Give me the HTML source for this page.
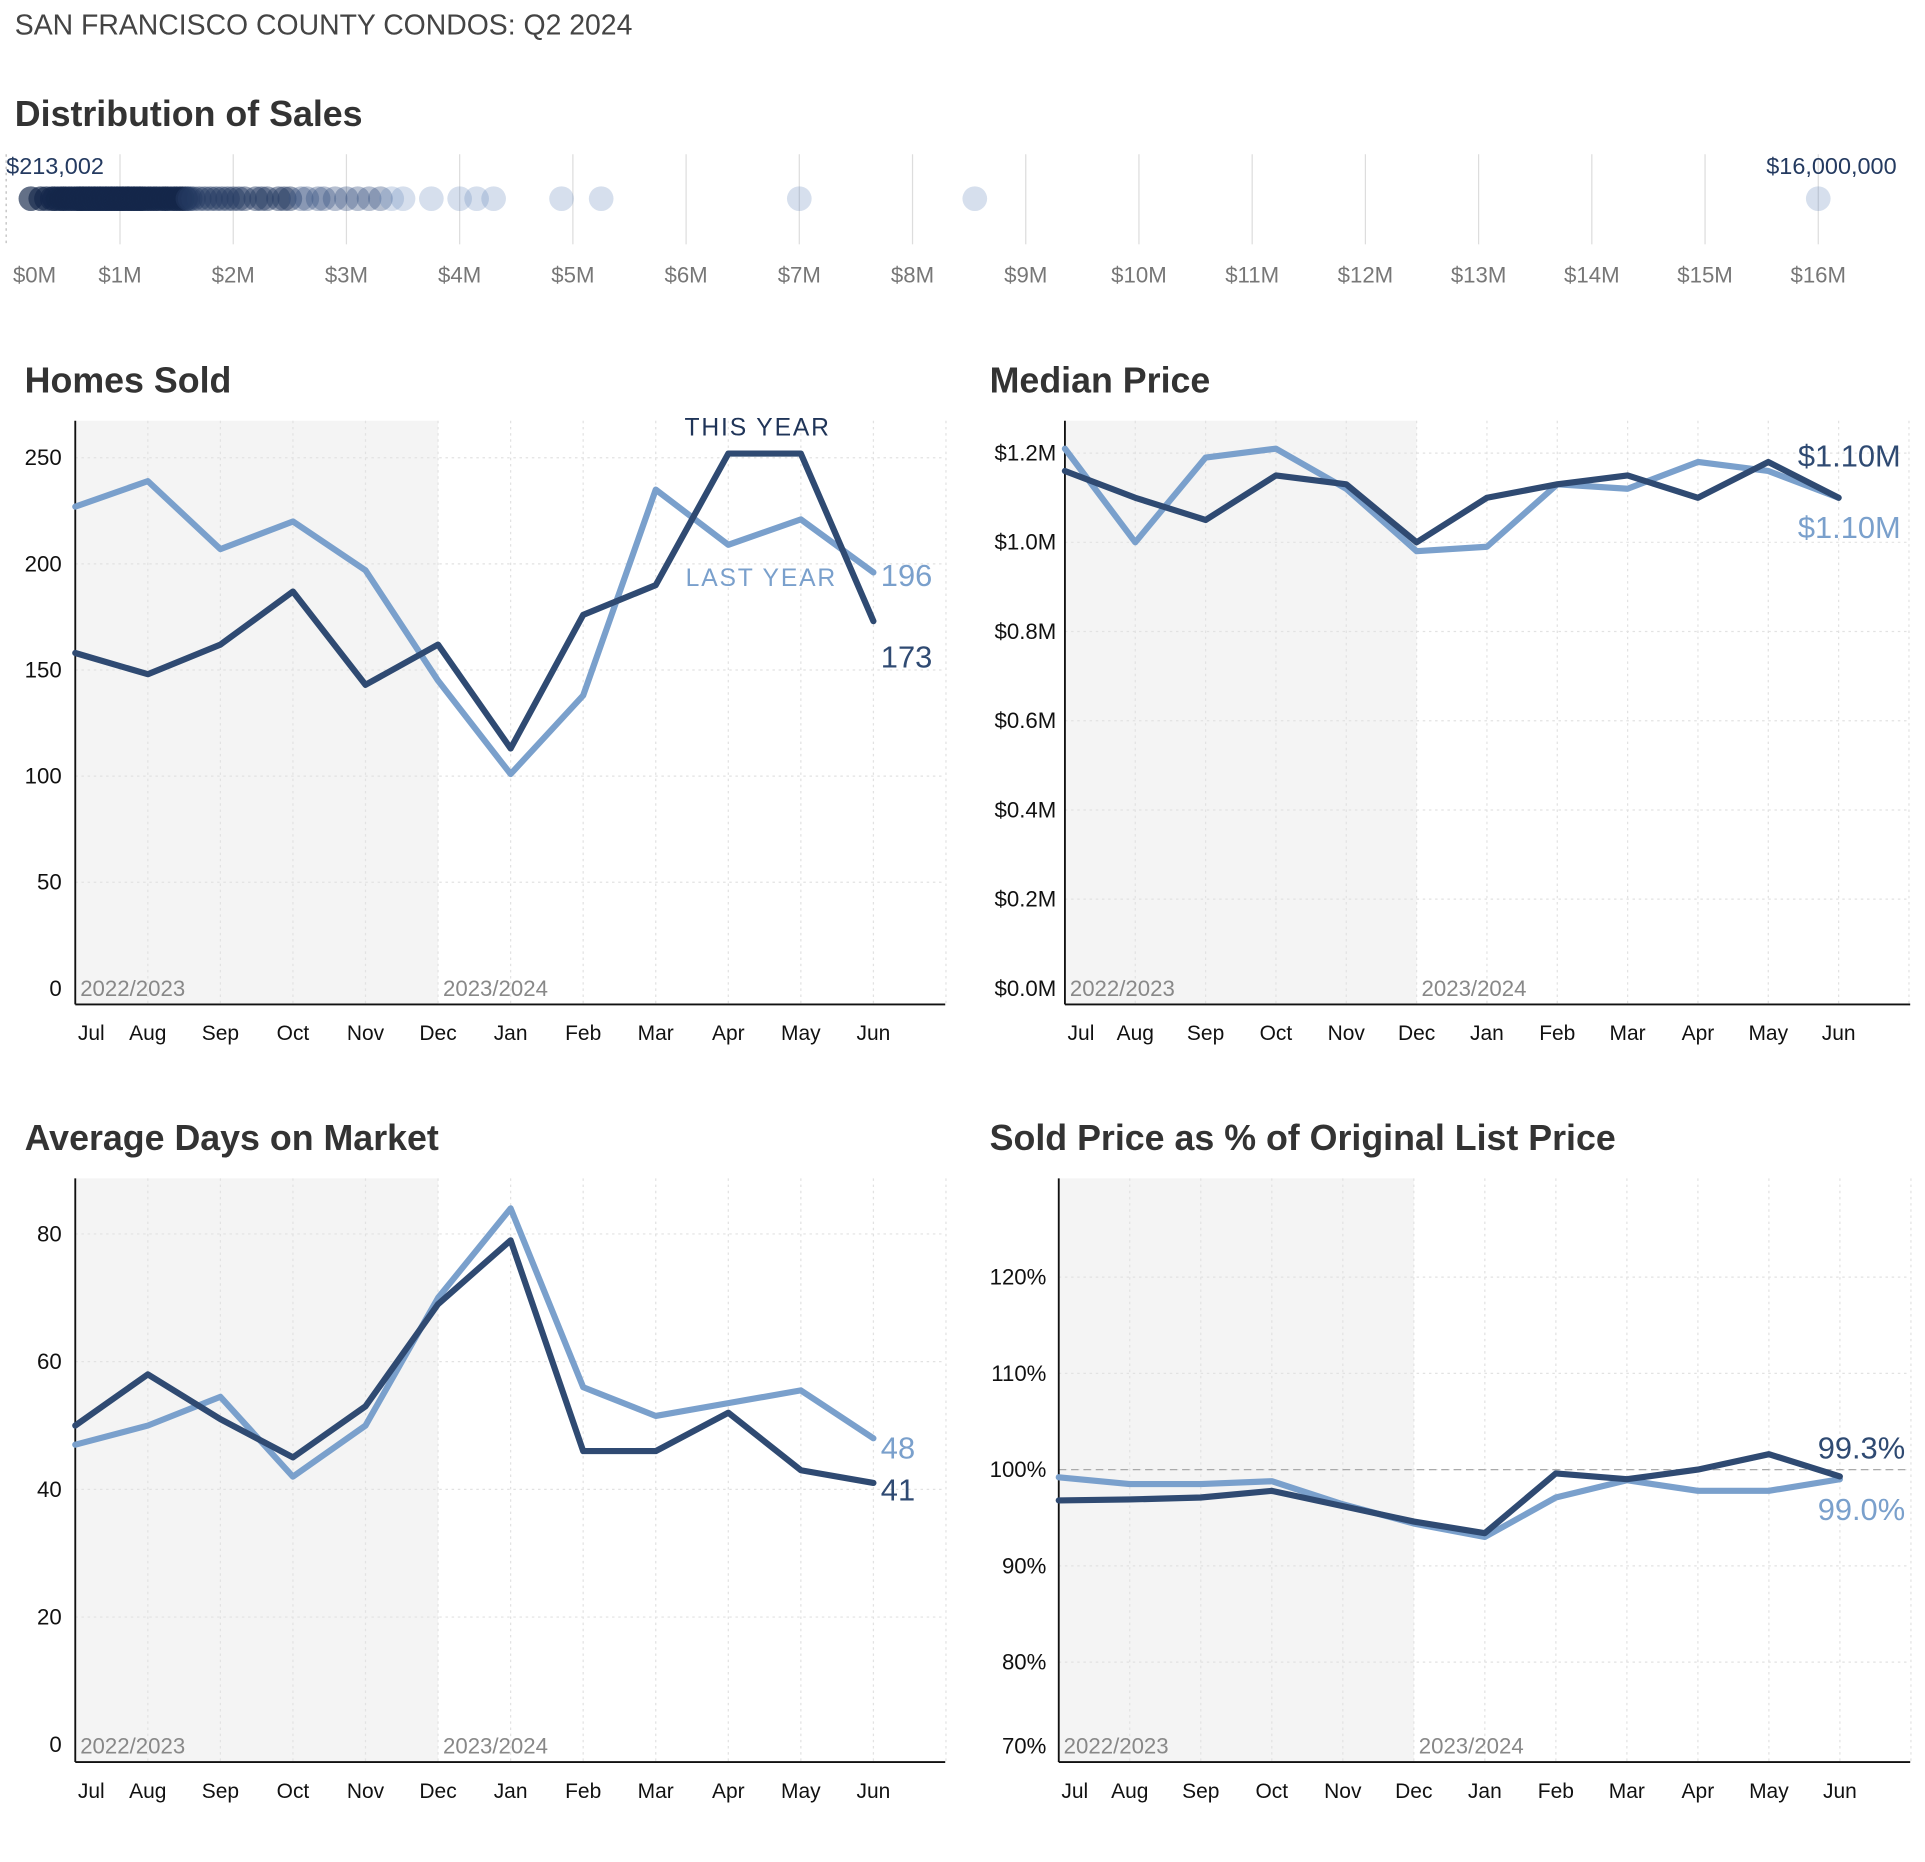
<!DOCTYPE html>
<html><head><meta charset="utf-8">
<style>
html,body{margin:0;padding:0;background:#fff;}
svg{display:block;}
text{font-family:"Liberation Sans Narrow","Liberation Sans",sans-serif;}
</style></head>
<body>
<svg id="root" width="1925" height="1862" viewBox="0 0 1560 1509" preserveAspectRatio="none" xmlns="http://www.w3.org/2000/svg">
<text x="12" y="28" font-size="23" fill="#444">SAN FRANCISCO COUNTY CONDOS: Q2 2024</text>
<text x="12" y="102" font-size="29" fill="#333" font-weight="bold">Distribution of Sales</text>
<g id="dist"></g>
<g id="c1"></g>
<g id="c2"></g>
<g id="c3"></g>
<g id="c4"></g>
</svg>
<script>
const months = ["Jul","Aug","Sep","Oct","Nov","Dec","Jan","Feb","Mar","Apr","May","Jun"];
const salePrices = [0.213,0.3,0.35,0.4,0.42,0.45,0.48,0.5,0.52,0.55,0.57,0.6,0.62,0.64,0.65,0.67,0.68,0.7,0.72,0.73,0.75,0.77,0.78,0.8,0.82,0.83,0.85,0.87,0.88,0.9,0.92,0.93,0.95,0.97,0.98,1.0,1.02,1.03,1.05,1.07,1.08,1.1,1.12,1.13,1.15,1.17,1.18,1.2,1.22,1.25,1.27,1.3,1.32,1.35,1.38,1.4,1.42,1.45,1.48,1.5,1.53,1.55,1.58,1.6,1.62,1.65,1.7,1.75,1.8,1.85,1.9,1.95,2.0,2.05,2.1,2.2,2.25,2.3,2.4,2.45,2.5,2.6,2.65,2.75,2.8,2.9,3.0,3.1,3.2,3.3,3.4,3.5,3.75,4.0,4.15,4.3,4.9,5.25,7.0,8.55,16.0];
const distTicks = [0,1,2,3,4,5,6,7,8,9,10,11,12,13,14,15,16];

const soldThis = [158,148,162,187,143,162,113,176,190,252,252,173];
const soldLast = [227,239,207,220,197,145,101,138,235,209,221,196];
const soldTicks = [0,50,100,150,200,250];

const priceThis = [1.16,1.10,1.05,1.15,1.13,1.00,1.10,1.13,1.15,1.10,1.18,1.10];
const priceLast = [1.21,1.00,1.19,1.21,1.12,0.98,0.99,1.13,1.12,1.18,1.16,1.10];
const priceTicks = [0,0.2,0.4,0.6,0.8,1.0,1.2];

const domThis = [50,58,51,45,53,69,79,46,46,52,43,41];
const domLast = [47,50,54.5,42,50,70,84,56,51.5,53.5,55.5,48];
const domTicks = [0,20,40,60,80];

const pctThis = [96.8,96.9,97.1,97.8,96.2,94.6,93.4,99.6,99.0,100.0,101.6,99.3];
const pctLast = [99.2,98.5,98.5,98.8,96.4,94.4,93.0,97.1,98.9,97.8,97.8,99.0];
const pctTicks = [70,80,90,100,110,120];

const NS="http://www.w3.org/2000/svg";
function mk(parent,tag,attrs,txt){const e=document.createElementNS(NS,tag);for(const k in attrs)e.setAttribute(k,attrs[k]);if(txt!==undefined)e.textContent=txt;parent.appendChild(e);return e;}
const DARK="#2f4a72", LIGHT="#7aa0cc";

(function(){
  const g=document.getElementById('dist');
  const x=v=>5.5+v*91.75;
  mk(g,'line',{x1:5,y1:125,x2:5,y2:198,stroke:'#bbb','stroke-dasharray':'2,3'});
  distTicks.forEach(t=>{
    if(t>0){const l=mk(g,'line',{x1:x(t),y1:125,x2:x(t),y2:198,stroke:'#ddd','stroke-width':1});
    
    }
    const tx=mk(g,'text',{x:t===0?28:x(t),y:229,'font-size':18,fill:'#777','text-anchor':'middle'},'$'+t+'M');
    
    
  });
  salePrices.forEach(v=>{
    const c=mk(g,'circle',{cx:x(v),cy:161,r:10,fill:'#5a80b8','fill-opacity':0.25});
    
    
    if(v<3.4){const c2=mk(g,'circle',{cx:x(v),cy:161,r:10,fill:'#061433','fill-opacity':v<1.6?0.55:(v<2.6?0.3:0.15)});
    
    }
  });
  const a=mk(g,'text',{x:5,y:141,'font-size':19,fill:'#243a60'},'$213,002');
  
  
  const b=mk(g,'text',{x:1537,y:141,'font-size':19,fill:'#243a60','text-anchor':'end'},'$16,000,000');
  
  
})();

function lineChart(o){
  const g=document.getElementById(o.id);
  const x=i=>o.x0+i*o.dx;
  const y=v=>o.yBase-(v-o.vBase)*o.k;
  const t=mk(g,'text',{x:o.titleX,y:o.titleY,'font-size':29,fill:'#333','font-weight':'bold'},o.title);
  
  
  const sh=mk(g,'rect',{x:o.x0,y:o.top,width:x(5)-o.x0,height:o.bottom-o.top,fill:'#f4f4f4'});
  
  
  for(let i=1;i<=12;i++){
    const l=mk(g,'line',{x1:x(i),y1:o.top,x2:x(i),y2:o.bottom,stroke:'#e2e2e2','stroke-dasharray':'2,3'});
    
    
  }
  o.ticks.forEach(v=>{
    const yy=y(v);
    if(v!==o.ticks[0]){const l=mk(g,'line',{x1:o.x0,y1:yy,x2:o.right,y2:yy,stroke:'#e2e2e2','stroke-dasharray':'2,3'});
    
    }
    const tx=mk(g,'text',{x:o.labelX,y:Math.min(yy,o.bottom-13)+6,'font-size':18,fill:'#111','text-anchor':'end'},o.fmt(v));
    
    
  });
  if(o.refLine!==undefined){
    const l=mk(g,'line',{x1:o.x0,y1:y(o.refLine),x2:o.right,y2:y(o.refLine),stroke:'#aaa','stroke-dasharray':'6,4'});
    
    
  }
  const p1=mk(g,'text',{x:o.x0+4,y:o.bottom-7,'font-size':18,fill:'#888'},'2022/2023');
  
  
  const p2=mk(g,'text',{x:x(5)+4,y:o.bottom-7,'font-size':18,fill:'#888'},'2023/2024');
  
  
  const ax=mk(g,'line',{x1:o.x0,y1:o.top,x2:o.x0,y2:o.bottom,stroke:'#111','stroke-width':1.5});
  
  
  const ax2=mk(g,'line',{x1:o.x0,y1:o.bottom,x2:o.right,y2:o.bottom,stroke:'#111','stroke-width':1.5});
  
  
  months.forEach((m,i)=>{
    const tx=mk(g,'text',{x:i===0?x(i)+13:x(i),y:o.bottom+29,'font-size':17,fill:'#111','text-anchor':'middle'},m);
    
    
  });
  const pts=a=>a.map((v,i)=>x(i).toFixed(1)+','+y(v).toFixed(1)).join(' ');
  const l1=mk(g,'polyline',{points:pts(o.last),fill:'none',stroke:LIGHT,'stroke-width':5,'stroke-linejoin':'round','stroke-linecap':'round'});
  
  
  const l2=mk(g,'polyline',{points:pts(o.cur),fill:'none',stroke:DARK,'stroke-width':5,'stroke-linejoin':'round','stroke-linecap':'round'});
  
  
  const n=o.cur.length-1;
  const e1=mk(g,'text',{x:x(n)+o.endDx,y:o.endYLast,'font-size':25,fill:LIGHT},o.endFmt(o.last[n]));
  
  
  const e2=mk(g,'text',{x:x(n)+o.endDx,y:o.endYThis,'font-size':25,fill:DARK},o.endFmt(o.cur[n]));
  
  
  return {g,x,y};
}

const h=lineChart({id:'c1',title:'Homes Sold',titleX:20,titleY:318,x0:61,dx:58.8,right:766,top:341,bottom:814,yBase:801,vBase:0,k:86/50,ticks:soldTicks,labelX:50,fmt:v=>String(v),cur:soldThis,last:soldLast,endDx:6,endYThis:541,endYLast:475,endFmt:v=>String(v)});
const ty=mk(h.g,'text',{x:614,y:353,'font-size':20,fill:'#1f3458','text-anchor':'middle','letter-spacing':1.5},'THIS YEAR');


const ly=mk(h.g,'text',{x:617,y:475,'font-size':20,fill:LIGHT,'text-anchor':'middle','letter-spacing':1.5},'LAST YEAR');



lineChart({id:'c2',title:'Median Price',titleX:802,titleY:318,x0:863,dx:57,right:1548,top:341,bottom:814,yBase:801,vBase:0,k:72.3/0.2,ticks:priceTicks,labelX:856,fmt:v=>'$'+v.toFixed(1)+'M',cur:priceThis,last:priceLast,endDx:-33,endYThis:378,endYLast:436,endFmt:v=>'$'+v.toFixed(2)+'M'});

lineChart({id:'c3',title:'Average Days on Market',titleX:20,titleY:932,x0:61,dx:58.8,right:766,top:955,bottom:1428,yBase:1414,vBase:0,k:103.5/20,ticks:domTicks,labelX:50,fmt:v=>String(v),cur:domThis,last:domLast,endDx:6,endYThis:1216,endYLast:1182,endFmt:v=>String(Math.round(v))});

lineChart({id:'c4',title:'Sold Price as % of Original List Price',titleX:802,titleY:932,x0:858,dx:57.55,right:1548,top:955,bottom:1428,yBase:1191,vBase:100,k:7.8,ticks:pctTicks,labelX:848,fmt:v=>v+'%',refLine:100,cur:pctThis,last:pctLast,endDx:-18,endYThis:1182,endYLast:1232,endFmt:v=>v.toFixed(1)+'%'});
</script>
</body></html>
